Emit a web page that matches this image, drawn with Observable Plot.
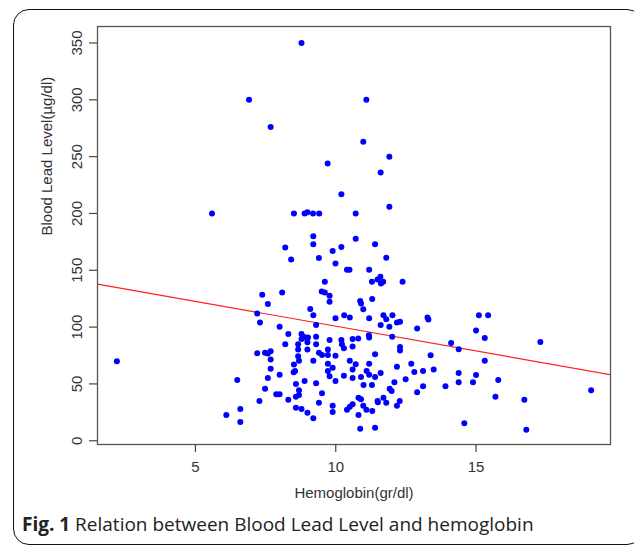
<!DOCTYPE html>
<html>
<head>
<meta charset="utf-8">
<script src="https://cdn.jsdelivr.net/npm/d3@7"></script>
<script src="https://cdn.jsdelivr.net/npm/@observablehq/plot@0.6"></script>
<style>
  html, body { margin: 0; padding: 0; background: #fff; }
  #wrap { position: relative; width: 634px; height: 550px; overflow: hidden; background: #fff; }
  #border { position: absolute; left: 13px; top: 9px; width: 630px; height: 536px; border: 1.5px solid #111; border-radius: 16px; box-sizing: border-box; }
  #chart { position: absolute; left: 0; top: 0; }
  #caption { position: absolute; left: 22px; top: 511px; font-family: "Open Sans", "Noto Sans", sans-serif; font-size: 19px; color: #222; white-space: nowrap; }
  #caption b { font-weight: 700; }
</style>
</head>
<body>
<div id="wrap">
  <div id="border"></div>
  <div id="chart"></div>
  <div id="caption"><b>Fig. 1</b> Relation between Blood Lead Level and hemoglobin</div>
</div>
<script>
// Hemoglobin (gr/dl)
const hemoglobin = [
  8.78, 6.91, 11.09, 7.68, 10.98, 11.91, 9.71, 11.6, 10.2, 11.91,
  8.51, 8.89, 8.99, 9.19, 9.41, 10.71, 5.59,
  2.2, 7.2, 7.3, 7.2, 6.49, 7.28, 6.1, 6.6, 6.6,
  9.2, 9.2, 8.2, 8.41, 9.4, 9.89, 10.2, 9.99, 10.4, 10.49,
  9.61, 9.5, 9.61, 9.78, 9.78, 8.09, 7.38, 7.58, 9.09, 9.2,
  8.0, 9.3, 9.99, 10.3, 10.5, 8.31, 8.78, 8.83, 8.92, 9.01,
  8.78, 9.3, 9.78, 10.2, 10.22, 10.29, 8.2, 8.66, 8.99, 9.3,
  8.66, 8.99, 9.72, 7.48, 7.58, 7.68, 7.68, 8.66, 9.4, 9.51,
  9.72, 9.99, 8.69, 9.2, 7.68, 8.51, 9.72, 9.89, 8.55, 8.5,
  9.72, 8.0, 9.78, 9.99, 10.29, 7.58, 8.89, 8.58, 9.3, 7.48,
  8.69, 9.51, 7.88, 8.0, 8.58, 8.69, 8.31, 9.4, 9.89, 9.89,
  10.4, 8.58, 8.78, 8.99, 9.2,
  10.71, 11.4, 11.8, 11.19, 11.29, 11.49, 11.59, 11.61, 11.69, 12.38,
  10.87, 10.9, 10.98, 11.3, 11.19, 11.7, 11.8, 12.02, 12.18, 12.29,
  13.27, 13.3, 11.6, 11.91, 12.9, 10.6, 10.6, 10.8, 11.18, 11.19,
  12.01, 12.29, 12.29, 11.4, 13.38, 10.5, 10.71, 11.19, 12.18, 12.69,
  10.6, 11.1, 11.19, 11.6, 11.4, 10.6, 10.9, 12.8, 13.11, 13.49,
  12.49, 12.09, 10.99, 11.29, 11.92, 11.99, 13.11, 12.9, 13.91, 10.81,
  10.9, 11.7, 11.49, 11.5, 11.8, 12.28, 12.18, 10.6, 10.5, 10.98,
  11.09, 11.3, 10.81, 10.87, 11.4,
  15.1, 15.43, 15.0, 15.31, 14.11, 14.38, 17.29, 15.31, 14.38, 15.0,
  14.38, 14.89, 15.79, 15.69, 16.72, 19.1, 14.58, 16.79
];
// Blood lead level (µg/dl)
const bloodLead = [
  350, 300, 300, 276, 263, 250, 244, 236, 217, 206,
  200, 200, 201, 200, 200, 200, 200,
  70, 112, 104, 77, 53.5, 35, 22.6, 28, 16.5,
  180, 173, 170, 159.5, 160.7, 167, 170.4, 156, 150.4, 150.4,
  140, 131.3, 130.4, 127.5, 122.2, 130.4, 128.4, 120.4, 116, 110.5,
  100.4, 101.9, 107.8, 110.5, 108.4, 94, 94, 91.4, 90.8, 90.8,
  89.6, 91.4, 88.7, 88.7, 85, 81.5, 85, 85, 86.7, 85,
  80.2, 80.2, 80.2, 77.5, 76.7, 78.8, 71.4, 74.4, 77.5, 75.5,
  75.5, 74.9, 70.5, 70.5, 63.4, 67, 67.8, 64.3, 61.4, 60.3,
  61.4, 58.1, 56.7, 52.6, 57.3, 55.2, 52.6, 50, 50.6, 45.8,
  44.4, 41.8, 40.9, 40.9, 38.8, 40.3, 36.1, 33.5, 30.8, 25.3,
  27.3, 29.1, 27.9, 24.7, 19.7,
  177.7, 173, 161, 150.4, 140, 141.9, 144.2, 138.3, 140, 140,
  123, 120.7, 115.8, 124.8, 107.8, 110.5, 107, 110.5, 104, 104.8,
  108.4, 106.6, 101.9, 100.4, 98.7, 89.5, 83, 89.9, 92.9, 90.8,
  91.4, 82.5, 79.5, 76.1, 75.2, 70.5, 67.3, 67.8, 65.2, 67.8,
  62.6, 61.4, 58.1, 59.6, 56.1, 55.2, 56.1, 60.5, 61.4, 62.6,
  54.1, 51.5, 49.1, 49.1, 45.8, 43.8, 47.9, 42.6, 47.9, 37.9,
  36.5, 37.9, 35, 33.8, 33.5, 35, 30.8, 32.1, 30, 30.8,
  27.3, 26.2, 22.6, 10.6, 11.5,
  110.5, 110.5, 96.9, 90.5, 86.1, 80.5, 87, 70.5, 59.6, 57.9,
  51.5, 51.5, 53.5, 38.8, 36.1, 44.4, 15.3, 9.7
];
const xTicks = [5, 10, 15];
const yTicks = [0, 50, 100, 150, 200, 250, 300, 350];
// fitted regression line: BLL = intercept + slope * Hb
const regIntercept = [144.4];
const regSlope = [-4.36];

const points = hemoglobin.map((h, i) => ({ hb: h, bll: bloodLead[i] }));
const xDomain = [1.51, 19.79];
const yDomain = [-3.3, 364.5];
const fit = xDomain.map(x => ({ hb: x, bll: regIntercept[0] + regSlope[0] * x }));

const font = "Liberation Sans, Arial, sans-serif";
const plot = Plot.plot({
  width: 634,
  height: 505,
  marginLeft: 97,
  marginRight: 24,
  marginTop: 26,
  marginBottom: 61,
  style: { fontFamily: font, fontSize: "15px", color: "#333", background: "transparent", overflow: "visible" },
  x: { domain: xDomain },
  y: { domain: yDomain },
  marks: [
    Plot.line(fit, { x: "hb", y: "bll", stroke: "#ff2020", strokeWidth: 1.2, clip: true }),
    Plot.dot(points, { x: "hb", y: "bll", r: 3, fill: "#0000ff", stroke: "none" }),
    Plot.frame({ stroke: "#555", strokeWidth: 1.3 }),
    Plot.axisY({ ticks: yTicks, tickSize: 8, tickFormat: () => "", stroke: "#444", strokeWidth: 1.2, label: null }),
    Plot.text(yTicks, { y: d => d, text: d => String(d), frameAnchor: "left", dx: -20, rotate: -90, textAnchor: "middle", lineAnchor: "middle", fill: "#333", fontSize: 15 }),
    Plot.axisX({ ticks: xTicks, tickSize: 8, tickPadding: 9, stroke: "#444", strokeWidth: 1.2, fill: "#333", fontSize: 15, label: null }),
    Plot.text(["Hemoglobin(gr/dl)"], { text: d => d, frameAnchor: "bottom", dy: 53, fill: "#333", fontSize: 15 }),
    Plot.text(["Blood Lead Level(\u00b5g/dl)"], { text: d => d, frameAnchor: "left", dx: -50, rotate: -90, fill: "#333", fontSize: 15 })
  ]
});
document.getElementById("chart").appendChild(plot);
</script>
</body>
</html>
